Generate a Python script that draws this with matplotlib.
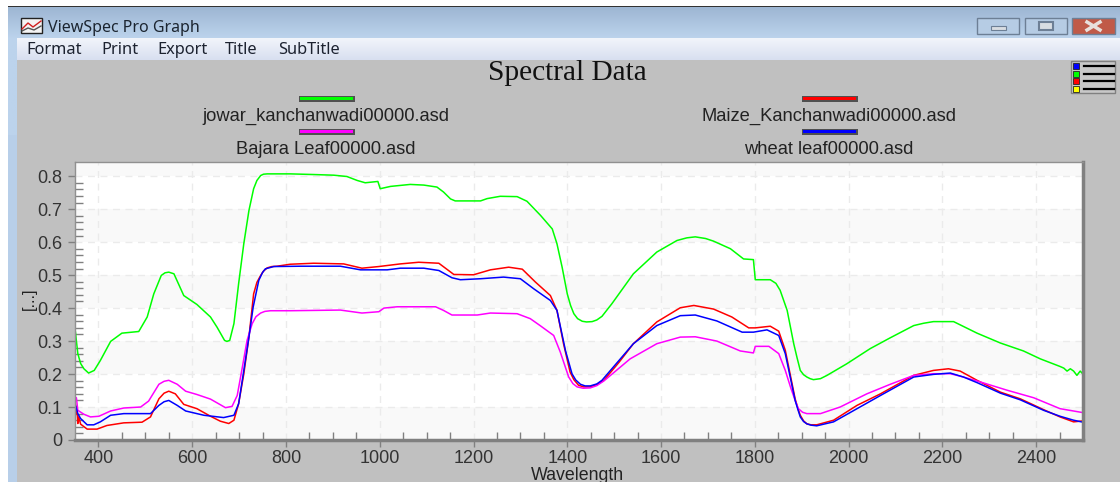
#!/usr/bin/env python
# -*- coding:utf-8 -*-
import numpy as np
import matplotlib
matplotlib.use('Agg')
import matplotlib.pyplot as plt
from matplotlib.patches import Rectangle

# spectra
green_x = [351, 353, 356, 362, 369, 379, 391, 404, 426, 450, 486, 504, 518, 534, 542, 550, 561, 582, 610, 639, 653,
           669, 674, 680, 689, 699, 710, 721, 731, 738, 746, 752, 760, 809, 859, 902, 930, 952, 969, 996, 1001,
           1023, 1065, 1094, 1122, 1136, 1151, 1161, 1215, 1229, 1257, 1293, 1314, 1343, 1368, 1378, 1389, 1400,
           1407, 1414, 1422, 1432, 1441, 1453, 1463, 1474, 1495, 1541, 1591, 1634, 1655, 1673, 1695, 1712, 1748,
           1776, 1797, 1801, 1833, 1845, 1854, 1869, 1883, 1890, 1897, 1904, 1911, 1918, 1925, 1940, 1954, 1996,
           2046, 2089, 2139, 2160, 2181, 2224, 2274, 2324, 2373, 2409, 2451, 2459, 2466, 2473, 2480, 2487, 2494,
           2500]
green_y = [.327, .300, .262, .232, .216, .203, .211, .241, .299, .324, .329, .373, .443, .499, .507, .509, .504,
           .438, .411, .373, .342, .302, .299, .302, .353, .474, .595, .696, .762, .787, .802, .806, .807, .807,
           .805, .803, .799, .787, .780, .784, .762, .769, .775, .773, .767, .752, .731, .725, .725, .732, .739,
           .738, .724, .681, .640, .595, .524, .443, .408, .383, .368, .360, .358, .359, .364, .375, .413, .504,
           .570, .605, .613, .616, .611, .603, .580, .549, .547, .486, .486, .475, .454, .393, .292, .250, .211,
           .198, .191, .186, .183, .186, .196, .231, .277, .310, .347, .354, .359, .359, .324, .294, .270, .246,
           .223, .218, .209, .216, .209, .196, .209, .200]

red_x = [351, 353, 354, 356, 358, 362, 376, 397, 418, 454, 493, 511, 529, 540, 550, 564, 582, 610, 639, 660, 678,
         689, 699, 710, 721, 731, 738, 746, 752, 760, 770, 781, 809, 859, 923, 962, 998, 1044, 1083, 1126, 1158,
         1200, 1236, 1275, 1304, 1332, 1364, 1378, 1392, 1406, 1414, 1424, 1435, 1449, 1463, 1478, 1510, 1541,
         1591, 1641, 1670, 1712, 1751, 1787, 1801, 1833, 1851, 1865, 1886, 1892, 1897, 1904, 1911, 1920, 1932,
         1968, 2018, 2068, 2139, 2181, 2213, 2238, 2274, 2324, 2366, 2416, 2451, 2480, 2500]
red_y = [.110, .080, .100, .050, .070, .048, .033, .033, .044, .052, .054, .070, .125, .142, .148, .140, .108,
         .095, .072, .057, .050, .060, .110, .200, .312, .443, .478, .499, .512, .522, .526, .527, .533, .536,
         .534, .521, .526, .534, .539, .536, .502, .501, .516, .524, .518, .479, .438, .393, .292, .206, .183,
         .166, .161, .161, .168, .181, .235, .292, .358, .401, .408, .397, .373, .340, .340, .345, .330, .272,
         .125, .095, .075, .058, .049, .046, .046, .060, .105, .140, .196, .211, .216, .209, .181, .145, .125,
         .092, .070, .055, .058]

magenta_x = [351, 353, 356, 369, 383, 401, 426, 454, 490, 507, 529, 540, 550, 568, 586, 610, 639, 671, 685, 696,
             707, 717, 728, 736, 746, 755, 767, 809, 916, 962, 998, 1009, 1037, 1119, 1136, 1154, 1208, 1236, 1293,
             1321, 1342, 1371, 1385, 1403, 1412, 1421, 1434, 1449, 1463, 1478, 1534, 1591, 1641, 1673, 1719, 1769,
             1797, 1801, 1830, 1851, 1865, 1876, 1886, 1893, 1902, 1911, 1940, 1982, 2039, 2089, 2139, 2181, 2217,
             2245, 2281, 2338, 2395, 2451, 2500]
magenta_y = [.130, .128, .090, .078, .070, .072, .088, .097, .100, .118, .169, .178, .181, .169, .148, .138, .124,
             .098, .102, .135, .221, .302, .353, .374, .385, .390, .392, .392, .394, .385, .389, .400, .404, .404,
             .393, .379, .379, .385, .383, .368, .347, .317, .267, .191, .171, .161, .157, .158, .165, .179, .246,
             .292, .312, .313, .300, .270, .264, .284, .284, .262, .211, .161, .120, .095, .084, .080, .080, .100,
             .140, .169, .196, .201, .201, .191, .176, .151, .128, .095, .083]

blue_x = [351, 353, 356, 362, 376, 390, 404, 426, 454, 511, 529, 540, 550, 568, 586, 625, 667, 689, 699, 710, 721,
          730, 742, 750, 756, 774, 831, 916, 959, 1016, 1044, 1094, 1126, 1154, 1172, 1215, 1264, 1300, 1328, 1364,
          1378, 1396, 1410, 1418, 1428, 1438, 1449, 1463, 1474, 1541, 1591, 1641, 1673, 1719, 1773, 1797, 1826,
          1851, 1865, 1886, 1892, 1897, 1904, 1911, 1920, 1932, 1968, 2018, 2068, 2139, 2181, 2217, 2245, 2274,
          2324, 2366, 2416, 2451, 2480, 2500]
blue_y = [.105, .095, .080, .065, .046, .046, .055, .075, .080, .080, .105, .116, .120, .105, .088, .075, .068,
          .075, .110, .210, .312, .403, .484, .508, .519, .526, .527, .527, .516, .516, .521, .521, .514, .492,
          .486, .489, .494, .489, .459, .423, .393, .272, .201, .182, .169, .164, .164, .170, .181, .292, .347,
          .377, .379, .361, .327, .327, .334, .317, .262, .120, .092, .070, .056, .049, .045, .043, .055, .095,
          .135, .191, .199, .203, .191, .174, .142, .122, .090, .072, .060, .054]

legend_names = ['jowar_kanchanwadi00000.asd', 'Maize_Kanchanwadi00000.asd', 'Bajara Leaf00000.asd', 'wheat leaf00000.asd']
menu_items = ['Format', 'Print', 'Export', 'Title', 'SubTitle']
x_ticks = [400, 600, 800, 1000, 1200, 1400, 1600, 1800, 2000, 2200, 2400]
y_ticks = [0, 0.1, 0.2, 0.3, 0.4, 0.5, 0.6, 0.7, 0.8]
y_tick_labels = ['0', '0.1', '0.2', '0.3', '0.4', '0.5', '0.6', '0.7', '0.8']

W, H = 1120, 482
plt.rcParams['font.family'] = ['Liberation Sans', 'DejaVu Sans']
fig = plt.figure(figsize=(W / 100, H / 100), dpi=100, facecolor='white')

# window chrome, drawn on a full size axes in pixel units
bg = fig.add_axes([0, 0, 1, 1], zorder=0)
bg.set_axis_off()


def box(x0, y0, x1, y1, color, z=1, **kw):
    bg.add_patch(Rectangle((x0, y0), x1 - x0, y1 - y0, facecolor=color, edgecolor=kw.pop('ec', 'none'),
                           linewidth=kw.pop('lw', 0), zorder=z, **kw))


def grad(x0, y0, x1, y1, c0, c1, z=1):
    a = np.array(matplotlib.colors.to_rgb(c0))
    b = np.array(matplotlib.colors.to_rgb(c1))
    t = np.linspace(0, 1, 64)[:, None, None]
    bg.imshow(a + (b - a) * t, extent=[x0, x1, y1, y0], aspect='auto', zorder=z, interpolation='bilinear')


grad(8, 7, W, 38, '#9db6d3', '#bcd3ec')
grad(8, 38, 17, 135, '#bcd3ec', '#bcd3ec', 1)
box(8, 135, 17, H, '#b8cfe9')
box(8, 6, W, 7, '#333333', 2)
grad(17, 38, W, 60, '#f2f5fb', '#d8dff0', 2)
box(17, 60, W, H, '#c0c0c0', 2)

# caption
bg.text(48, 27.5, 'ViewSpec Pro Graph', fontsize=11.5, family=['Noto Sans'], color='#1c2530', va='center', zorder=5)
box(21, 18, 42, 33, '#f4f4f4', 3, ec='#222222', lw=1)
bg.plot([22, 28, 33, 41], [29, 23, 27, 21], color='#d02020', lw=1, zorder=4)
bg.plot([22, 28, 34, 41], [31, 28, 30, 26], color='#555555', lw=1, zorder=4)

menu_x = [26, 101, 157, 225, 278]
for name, mx in zip(menu_items, menu_x):
    bg.text(mx, 49.5, name, fontsize=11.8, family=['Noto Sans'], color='#1c2230', va='center', zorder=5)

# min, max, close buttons
for x0, x1, c in [(977, 1019, '#b6cce4'), (1025, 1067, '#b6cce4'), (1072, 1115, '#c05a48')]:
    box(x0, 18, x1, 34, c, 3, ec='#6d7f95', lw=1)
box(991, 26, 1006, 30, '#d8dde2', 4, ec='#6d7f95', lw=0.8)
box(1039, 22, 1053, 30, '#d8dde2', 4, ec='#6d7f95', lw=1.5)
bg.plot([1087, 1100], [22, 30], color='#e8e0dc', lw=2.5, zorder=4)
bg.plot([1087, 1100], [30, 22], color='#e8e0dc', lw=2.5, zorder=4)

# the little legend icon top right
box(1071, 61, 1115, 93, '#c8c8c8', 3, ec='#808080', lw=1)
for yy, c in zip([66, 73.5, 81, 88.5], ['#0000ff', '#00ff00', '#ff0000', '#ffff00']):
    box(1073, yy - 3, 1079, yy + 3, c, 4, ec='#222222', lw=0.6)
    bg.plot([1084, 1114], [yy, yy], color='black', lw=1.6, zorder=4)

bg.text(567, 73.5, 'Spectral Data', fontsize=21.2, family=['Liberation Serif'], color='#111111', ha='center',
        va='center', zorder=5)

# legend, two rows two columns
leg_pos = [(326, 98, 116), (829, 98, 116), (326, 131, 149), (829, 131, 149)]
leg_col = ['#00ff00', '#ff0000', '#ff00ff', '#0000ff']
for name, (lx, ly, ty), c in zip(legend_names, leg_pos, leg_col):
    box(lx - 27, ly - 2, lx + 29, ly + 4, '#505050', 3)
    box(lx - 26, ly - 1, lx + 27, ly + 2, c, 4)
    bg.text(lx, ty, name, fontsize=13.2, color='#222222', ha='center', va='center', zorder=5)

bg.text(29, 299, '[...]', fontsize=12, rotation=90, color='#222222', ha='center', va='center', zorder=5)
bg.text(577, 475.5, 'Wavelength', fontsize=12.8, color='#222222', ha='center', va='center', zorder=5)

bg.set_xlim(0, W)
bg.set_ylim(H, 0)

# plot area
left, right, top, bottom = 75, 1083, 162, 440
ax = fig.add_axes([left / W, 1 - bottom / H, (right - left) / W, (bottom - top) / H], zorder=2)
ax.set_xlim(350, 2500)
ax.set_ylim(0, 0.843)
ax.set_facecolor('white')
for lo in [0, 0.2, 0.4, 0.6, 0.8]:
    ax.axhspan(lo, lo + 0.1, color='#f9f9f9', lw=0, zorder=0)
ax.set_xticks(x_ticks)
ax.set_xticks(np.arange(450, 2500, 50), minor=True)
ax.set_yticks(y_ticks)
ax.set_yticklabels(y_tick_labels)
ax.set_yticks(np.arange(0, 0.82, 0.02), minor=True)
ax.grid(True, which='major', color='#ebebeb', linestyle=(0, (5, 4)), linewidth=1)
ax.set_axisbelow(True)
ax.tick_params(axis='both', which='major', direction='out', length=5, width=1, color='#808080', labelsize=13,
               labelcolor='#333333')
ax.tick_params(axis='both', which='minor', direction='in', length=6, width=1, color='#808080')
ax.tick_params(axis='x', which='major', pad=2)
ax.tick_params(axis='y', which='major', pad=4)

for s in ['top', 'left']:
    ax.spines[s].set_color('#909090')
    ax.spines[s].set_linewidth(1)
for s in ['bottom', 'right']:
    ax.spines[s].set_color('#808080')
    ax.spines[s].set_linewidth(2.5)

ax.plot(green_x, green_y, color='#00ff00', lw=1.1)
ax.plot(red_x, red_y, color='#ff0000', lw=1.1)
ax.plot(magenta_x, magenta_y, color='#ff00ff', lw=1.1)
ax.plot(blue_x, blue_y, color='#0000ff', lw=1.1)

fig.savefig('out.png', dpi=100)
